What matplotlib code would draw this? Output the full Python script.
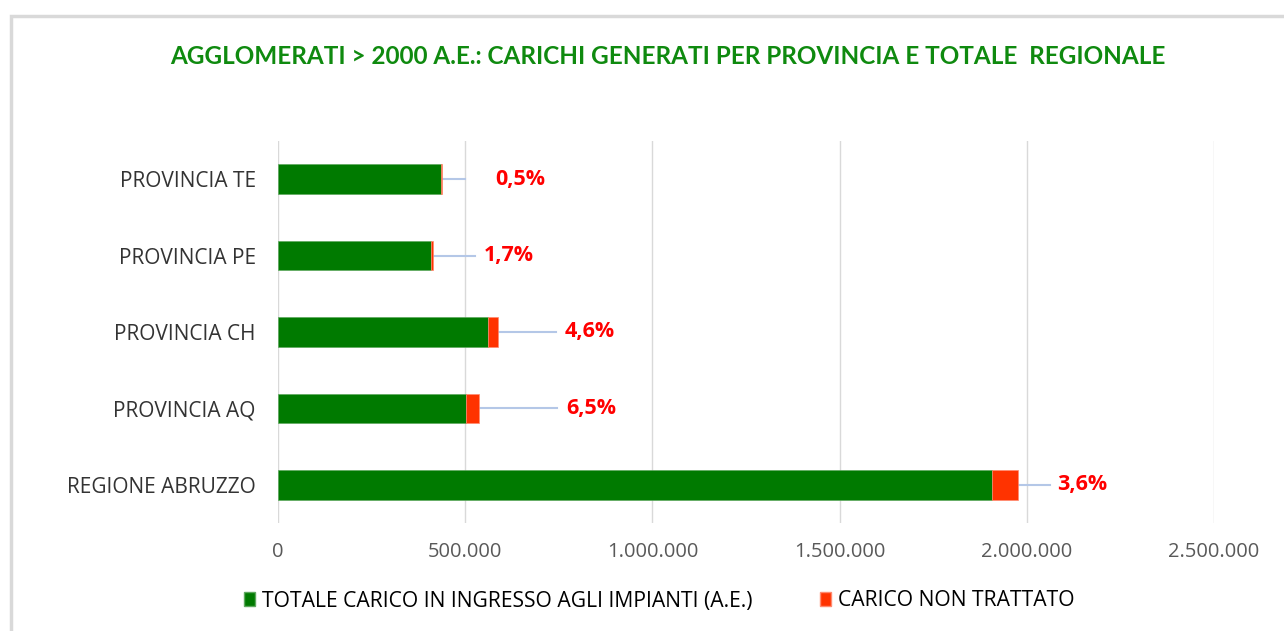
import matplotlib.pyplot as plt
from matplotlib.patches import Rectangle, Patch

# data (bottom to top, as drawn)
categories = ['REGIONE ABRUZZO', 'PROVINCIA AQ', 'PROVINCIA CH', 'PROVINCIA PE', 'PROVINCIA TE']
carico_trattato = [1906000, 502000, 561000, 408000, 435000]
carico_non_trattato = [71000, 35000, 27000, 7000, 2000]
pct_labels = ['3,6%', '6,5%', '4,6%', '1,7%', '0,5%']
xticks = [0, 500000, 1000000, 1500000, 2000000, 2500000]

# where the percentage labels sit (data units) and where the leader line stops
label_x = [2082000, 769000, 766000, 550000, 579000]
line_end = [2061000, 745000, 742000, 526000, 499000]

green = '#007a00'
red = '#ff3300'
font = 'Open Sans'

fig = plt.figure(figsize=(12.84, 6.31), dpi=100)
ax = fig.add_axes([278/1284, 1 - 523/631, (1214 - 278)/1284, (523 - 141)/631])

y = range(len(categories))
ax.barh(y, carico_trattato, height=0.39, color=green, edgecolor='#5fa85f', linewidth=0.5,
        label='TOTALE CARICO IN INGRESSO AGLI IMPIANTI (A.E.)', zorder=3)
ax.barh(y, carico_non_trattato, left=carico_trattato, height=0.39, color=red,
        edgecolor='#ff8a70', linewidth=0.5, label='CARICO NON TRATTATO', zorder=3)

#leader lines + percentage labels
for i in y:
    end = carico_trattato[i] + carico_non_trattato[i]
    ax.plot([end, line_end[i]], [i, i], color='#b4c7e7', lw=1.5, zorder=2)
    ax.text(label_x[i], i, pct_labels[i], color='#ff0000', fontsize=15.5, fontweight='bold',
            fontname=font, va='center', ha='left')

ax.set_xlim(0, 2500000)
ax.set_ylim(-0.5, len(categories) - 0.5)
ax.set_xticks(xticks)
ax.set_xticklabels([f'{v:,}'.replace(',', '.') for v in xticks], fontname=font,
                   fontsize=14.5, color='#595959')
ax.set_yticks(list(y))
ax.set_yticklabels(categories, fontname=font, fontsize=15, color='#333333')
ax.tick_params(axis='x', length=0, pad=14)
ax.tick_params(axis='y', length=0, pad=16)
ax.grid(axis='x', color='#d9d9d9', lw=1, zorder=0)
for s in ax.spines.values():
    s.set_visible(False)

fig.text(667.5/1284, 1 - 56/631, 'AGGLOMERATI > 2000 A.E.: CARICHI GENERATI PER PROVINCIA E TOTALE  REGIONALE',
         ha='center', va='center', color='#0f8a0f', fontsize=17.5, fontweight='bold', fontname='Lato')

handles = [Patch(facecolor=green, edgecolor='#5fa85f'), Patch(facecolor=red, edgecolor='#ff8a70')]
fig.legend(handles, ['TOTALE CARICO IN INGRESSO AGLI IMPIANTI (A.E.)', 'CARICO NON TRATTATO'],
           loc='center', bbox_to_anchor=(659/1284, 1 - 601/631), ncol=2, frameon=False,
           handlelength=0.52, handleheight=0.65, handletextpad=0.33, columnspacing=3.2,
           prop={'family': font, 'size': 15.2})

#outer chart frame
fig.add_artist(Rectangle((11/1284, -0.05), 1.1, 1 - 16/631 + 0.05, transform=fig.transFigure,
                         fill=False, edgecolor='#d9d9d9', lw=2.5))

fig.savefig('out.png', dpi=100)
